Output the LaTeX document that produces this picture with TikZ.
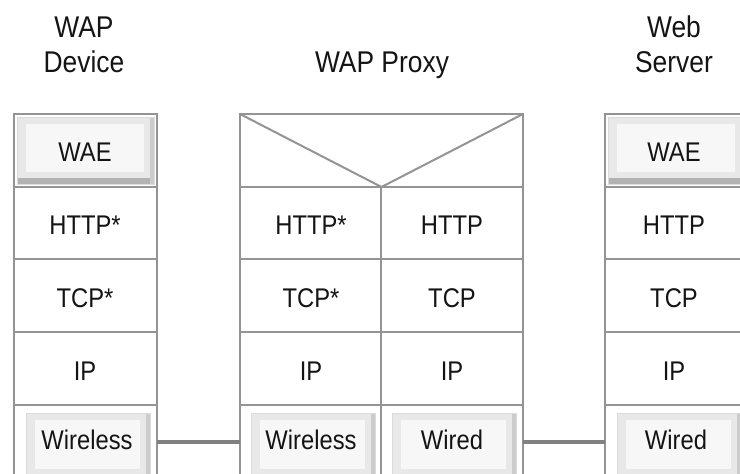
\documentclass[tikz,border=0pt]{standalone}
\usepackage{fontspec}
\setmainfont{Liberation Sans}[FakeStretch=0.88]
\begin{document}
\begin{tikzpicture}[x=1pt,y=-1pt,
  every node/.style={inner sep=0pt, outer sep=0pt},
  linegray/.style={draw=black!42, line width=2pt},
  cell/.style={linegray, fill=white, rectangle, minimum width=143pt, minimum height=73pt},
  halfcell/.style={cell, minimum width=142pt},
  widecell/.style={cell, minimum width=283pt},
  btnface/.style={rectangle, fill=black!9, draw=black!14, line width=1pt,
    path picture={
      \fill[black!3] ([xshift=9pt,yshift=-7pt]path picture bounding box.north west)
        rectangle ([xshift=-10pt,yshift=12pt]path picture bounding box.south east);
      \fill[black!30] (path picture bounding box.south west)
        rectangle ([yshift=6pt]path picture bounding box.south east);
      \fill[black!20] ([xshift=-4pt]path picture bounding box.south east)
        rectangle (path picture bounding box.north east);
    }},
  label/.style={anchor=base, text=black!92, font=\fontsize{27}{32}\selectfont},
  title/.style={align=center, text=black!92, font=\fontsize{30}{35}\selectfont},
  link/.style={draw=black!50, line width=4pt}
]
\useasboundingbox (0,0) rectangle (740,474);
\clip (0,0) rectangle (740,474);

% ---- titles (base anchor sits on the last line)
\node[title, anchor=base] (tdev) at (84,72) {WAP\\Device};
\node[title, anchor=base] (tpx)  at (382,72) {WAP Proxy};
\node[title, anchor=base] (tsrv) at (674,72) {Web\\Server};

% ---- WAP device stack
\node[cell] (d1) at (85.5,150.5) {};
\node[cell] (d2) at (85.5,223) {};
\node[cell] (d3) at (85.5,295.5) {};
\node[cell] (d4) at (85.5,368.5) {};
\node[cell] (d5) at (85.5,441.5) {};
\node[btnface, minimum width=137pt, minimum height=67pt] (d1b) at (d1) {};
\node[btnface, minimum width=124pt, minimum height=68pt] (d5b) at (88,447) {};

% ---- WAP proxy stack
\node[widecell] (p0) at (381.5,150.5) {};
\draw[linegray] (p0.north west) -- (p0.south) -- (p0.north east);
\node[halfcell] (pl2) at (311,223) {};
\node[halfcell] (pl3) at (311,295.5) {};
\node[halfcell] (pl4) at (311,368.5) {};
\node[halfcell] (pl5) at (311,441.5) {};
\node[halfcell] (pr2) at (452,223) {};
\node[halfcell] (pr3) at (452,295.5) {};
\node[halfcell] (pr4) at (452,368.5) {};
\node[halfcell] (pr5) at (452,441.5) {};
\node[btnface, minimum width=124pt, minimum height=68pt] (pl5b) at (313,447) {};
\node[btnface, minimum width=124pt, minimum height=68pt] (pr5b) at (454,447) {};

% ---- web server stack
\node[cell] (s1) at (676.5,150.5) {};
\node[cell] (s2) at (676.5,223) {};
\node[cell] (s3) at (676.5,295.5) {};
\node[cell] (s4) at (676.5,368.5) {};
\node[cell] (s5) at (676.5,441.5) {};
\node[btnface, minimum width=137pt, minimum height=67pt] (s1b) at (s1) {};
\node[btnface, minimum width=124pt, minimum height=68pt] (s5b) at (679,447) {};

% ---- physical links
\draw[link] (d5.east) -- (pl5.west);
\draw[link] (pr5.east) -- (s5.west);

% ---- layer names
\node[label] at (85,161) {WAE};
\node[label] at (85,234) {HTTP*};
\node[label] at (85,307) {TCP*};
\node[label] at (85,380) {IP};
\node[label] at (87,449) {Wireless};

\node[label] at (311,234) {HTTP*};
\node[label] at (311,307) {TCP*};
\node[label] at (311,380) {IP};
\node[label] at (311,449) {Wireless};
\node[label] at (452,234) {HTTP};
\node[label] at (452,307) {TCP};
\node[label] at (452,380) {IP};
\node[label] at (452,449) {Wired};

\node[label] at (674,161) {WAE};
\node[label] at (674,234) {HTTP};
\node[label] at (674,307) {TCP};
\node[label] at (674,380) {IP};
\node[label] at (676,449) {Wired};
\end{tikzpicture}
\end{document}
